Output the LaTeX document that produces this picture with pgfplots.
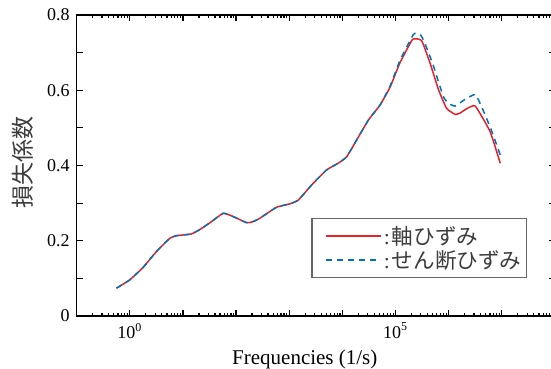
\documentclass[border=0pt]{standalone}
\usepackage{pgfplots}
\pgfplotsset{compat=1.18}
\usepackage{fontspec}
\setmainfont{Liberation Serif}
\newfontfamily\jp{Noto Sans CJK JP}
\definecolor{myred}{RGB}{232,32,40}
\definecolor{myblue}{RGB}{0,114,189}
\definecolor{txtgray}{RGB}{60,60,60}
\begin{document}
\begin{tikzpicture}
\useasboundingbox (-38.3pt,-26.5pt) rectangle (237.2pt,158pt);
\begin{axis}[
  scale only axis, width=239.2pt, height=150.5pt,
  xmode=log, xmin=1e-1, xmax=1e8, ymin=0, ymax=0.8,
  xtick={1e-1,1,1e1,1e2,1e3,1e4,1e5,1e6,1e7,1e8},
  xticklabels={{},10\textsuperscript{0},{},{},{},{},10\textsuperscript{5},{},{},{}},
  minor xtick={2e-1,3e-1,4e-1,5e-1,6e-1,7e-1,8e-1,9e-1,
    2,3,4,5,6,7,8,9,
    20,30,40,50,60,70,80,90,
    200,300,400,500,600,700,800,900,
    2e3,3e3,4e3,5e3,6e3,7e3,8e3,9e3,
    2e4,3e4,4e4,5e4,6e4,7e4,8e4,9e4,
    2e5,3e5,4e5,5e5,6e5,7e5,8e5,9e5,
    2e6,3e6,4e6,5e6,6e6,7e6,8e6,9e6,
    2e7,3e7,4e7,5e7,6e7,7e7,8e7,9e7},
  ytick={0,0.2,0.4,0.6,0.8},
  yticklabels={0,0.2,0.4,0.6,0.8},
  extra y ticks={0.1,0.3,0.5,0.7}, extra y tick labels={},
  tick align=inside,
  major tick length=3pt, minor tick length=1.6pt,
  axis line style={line width=0.8pt},
  every tick/.style={black, line width=0.6pt},
  tick label style={font=\fontsize{9}{10}\selectfont},
  xlabel={Frequencies (1/s)},
  xlabel style={font=\fontsize{10.5}{12}\selectfont, at={(axis description cs:0.477,0)}, anchor=base, yshift=-24pt},
  ylabel={\jp 損失係数},
  ylabel style={font=\fontsize{11.5}{12}\selectfont, text=txtgray, at={(axis description cs:-0.112,0.51)}, anchor=center},
  legend style={at={(0.941,0.126)}, anchor=south east, draw=black!60, line width=0.6pt,
    font=\fontsize{10.8}{12}\selectfont, text=txtgray, inner xsep=6.65pt, inner ysep=2.7pt,
    nodes={inner xsep=0pt, inner ysep=1pt, text height=9pt, text depth=1pt},
    row sep=0pt},
  legend cell align=left,
  legend image code/.code={\draw[#1] (0pt,0pt) -- (27.5pt,0pt);},
]
\addplot[myred, line width=0.75pt, smooth, tension=0.25] coordinates {
(0.5623,0.074) (1,0.096) (1.778,0.129) (3.162,0.171) (5.623,0.206) (7.586,0.2135)
(14.45,0.218) (20.89,0.230) (32.36,0.248) (57.54,0.273) (89.13,0.264) (158.5,0.248)
(208.9,0.251) (281.8,0.260) (575.4,0.289) (1023,0.298) (1479,0.308) (2630,0.348)
(5012,0.388) (8318,0.406) (12023,0.423) (18621,0.468) (30903,0.521) (51286,0.561)
(79433,0.609) (120226,0.672) (208930,0.735) (309030,0.732) (446684,0.672) (645654,0.601)
(912011,0.552) (1318257,0.536) (1621810,0.539) (2187762,0.551) (3162278,0.558)
(6025596,0.490) (9332543,0.406)
};
\addlegendentry{\hspace{1pt}:\hspace{1pt}{\jp 軸ひずみ}}
\addplot[myblue, line width=0.75pt, dash pattern=on 3pt off 2.5pt, smooth, tension=0.25] coordinates {
(0.5623,0.074) (1,0.096) (1.778,0.129) (3.162,0.171) (5.623,0.206) (7.586,0.2135)
(14.45,0.218) (20.89,0.230) (32.36,0.248) (57.54,0.273) (89.13,0.264) (158.5,0.248)
(208.9,0.251) (281.8,0.260) (575.4,0.289) (1023,0.298) (1479,0.308) (2630,0.348)
(5012,0.388) (8318,0.406) (12023,0.423) (18621,0.468) (30903,0.521) (51286,0.561)
(79433,0.612) (120226,0.678) (218776,0.749) (288403,0.749) (346737,0.729) (501187,0.670)
(794328,0.583) (1000000,0.565) (1318257,0.558) (1995262,0.575) (3162278,0.589)
(4168694,0.556) (6309573,0.495) (9332543,0.428)
};
\addlegendentry{\hspace{1pt}:\hspace{1pt}{\jp せん断ひずみ}\kern-4.3pt}
\end{axis}
\end{tikzpicture}
\end{document}
